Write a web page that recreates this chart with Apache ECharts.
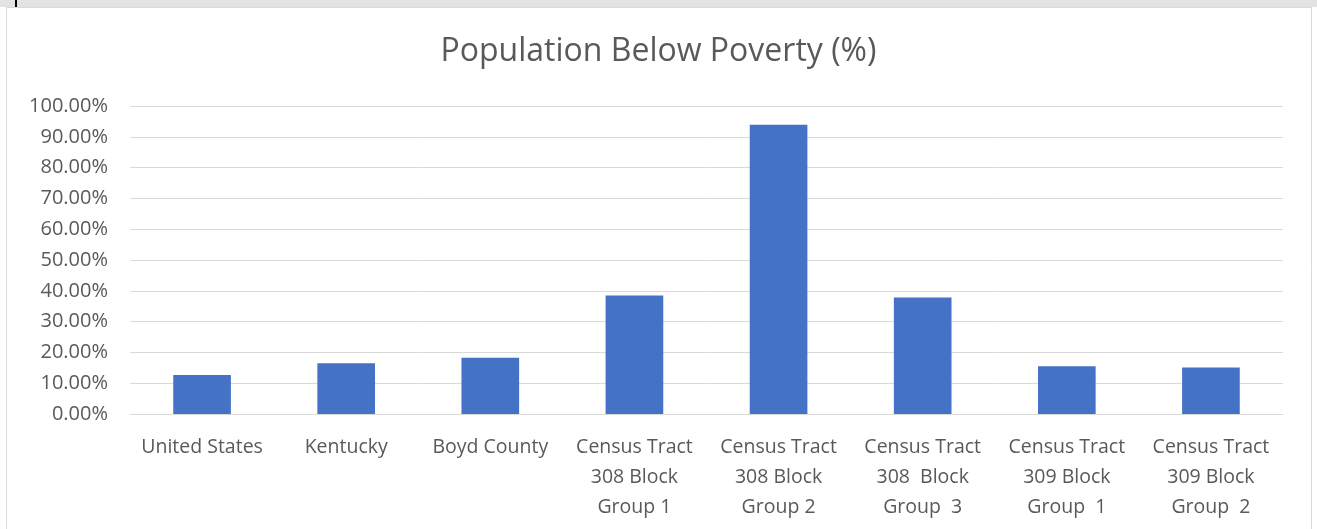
<!DOCTYPE html>
<html><head><meta charset="utf-8">
<script src="https://cdn.jsdelivr.net/npm/echarts@6/dist/echarts.min.js"></script>
<style>html,body{margin:0;padding:0;background:#fff;}#c{width:1317px;height:529px;}</style>
</head><body><div id="c"></div>
<script>
const categories = ["United States","Kentucky","Boyd County","Census Tract\n308 Block\nGroup 1","Census Tract\n308 Block\nGroup 2","Census Tract\n308  Block\nGroup  3","Census Tract\n309 Block\nGroup  1","Census Tract\n309 Block\nGroup  2"];
const values = [12.7, 16.5, 18.3, 38.5, 93.9, 37.8, 15.5, 15.1];
const yTicks = [0,10,20,30,40,50,60,70,80,90,100];
const titleText = "Population Below Poverty (%)";

const chart = echarts.init(document.getElementById('c'), null, {renderer:'canvas'});
const FONT = "'Open Sans', sans-serif";
chart.setOption({
  animation:false,
  backgroundColor:'#fff',
  graphic:[
    {type:'rect', shape:{x:0,y:0,width:1317,height:7}, style:{fill:'#e3e3e3'}, z:-1},
    {type:'rect', shape:{x:15,y:0,width:2,height:7}, style:{fill:'#000'}, z:-1},
    {type:'rect', shape:{x:6.5,y:7.5,width:1305,height:530}, style:{fill:'#fff', stroke:'#d9d9d9', lineWidth:1}, z:-2}
  ],
  title:{text:titleText, left:'center', top:31,
    textStyle:{color:'#595959', fontFamily:FONT, fontSize:32, fontWeight:'normal'}},
  grid:{left:130, right:34, top:106, bottom:115, containLabel:false},
  xAxis:{type:'category', data:categories,
    axisLine:{lineStyle:{color:'#d9d9d9', width:1}}, axisTick:{show:false},
    axisLabel:{color:'#595959', fontFamily:FONT, fontSize:19.5, lineHeight:30, margin:18, interval:0}},
  yAxis:{type:'value', min:0, max:100, interval:10,
    axisLine:{show:false}, axisTick:{show:false},
    splitLine:{lineStyle:{color:'#d9d9d9', width:1}},
    axisLabel:{color:'#595959', fontFamily:FONT, fontSize:20, margin:22,
      formatter:v=>v.toFixed(2)+'%'}},
  series:[{type:'bar', data:values, barCategoryGap:'60%',
    itemStyle:{color:'#4472c4'}}]
});
</script></body></html>
